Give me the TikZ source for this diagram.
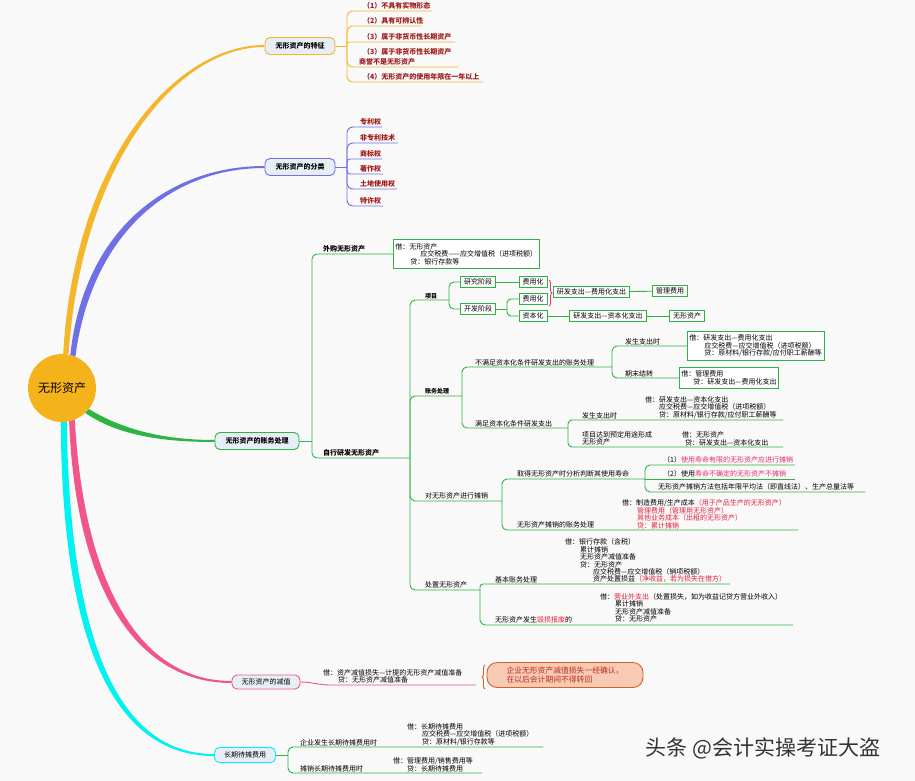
\documentclass[tikz,border=0pt]{standalone}
\usepackage{fontspec}
\setmainfont{Noto Sans CJK SC}
\usetikzlibrary{decorations.pathreplacing}

\definecolor{pagebg}{HTML}{F9F9F9}
\definecolor{rootc}{HTML}{F5B31B}
\definecolor{goldl}{HTML}{F4B72C}
\definecolor{bluel}{HTML}{6F6FE6}
\definecolor{greenl}{HTML}{2DB443}
\definecolor{pinkl}{HTML}{F0568A}
\definecolor{cyanl}{HTML}{00F2F2}
\definecolor{topicbg}{HTML}{E8EEF5}
\definecolor{itemred}{HTML}{A01A1A}
\definecolor{hotred}{HTML}{E4203A}
\definecolor{rosered}{HTML}{E2306A}
\definecolor{peach}{HTML}{F8C9B3}
\definecolor{rust}{HTML}{D2622C}
\definecolor{rusttxt}{HTML}{B8301E}

\newcommand\smallcn{\fontsize{7}{7.4}\selectfont}
\newcommand\tinycn{\fontsize{6}{6.5}\selectfont}

\begin{document}
\begin{tikzpicture}[
  x=1pt, y=-1pt,
  txt/.style   = {font=\smallcn, inner sep=0pt, anchor=south west, align=left},
  item/.style  = {txt, font=\smallcn\bfseries, text=itemred},
  topic/.style = {draw, line width=0.9pt, fill=topicbg, rounded corners=5pt,
                  font=\smallcn\bfseries, minimum height=17pt, inner xsep=4pt, inner ysep=0pt},
  gbox/.style  = {draw=greenl, line width=0.9pt, fill=white, font=\smallcn,
                  inner xsep=3.5pt, inner ysep=2pt},
  jbox/.style  = {gbox, align=left, anchor=west, inner xsep=2pt, inner ysep=3.5pt},
  gl/.style    = {draw=greenl, line width=0.9pt, rounded corners=5pt},
]

%% page
\useasboundingbox (0,0) rectangle (915,781);
\fill[pagebg] (0,0) rectangle (915,781);

%% ── root and main topics ───────────────────────────────────────────
\node[circle, fill=rootc, minimum size=68pt, inner sep=0pt,
      font=\fontsize{12}{12}\selectfont] (root) at (62,388) {无形资产};

\node[topic, draw=goldl, minimum width=70pt] (feat) at (300,46) {无形资产的特征};
\node[topic, draw=bluel, minimum width=70pt] (cls)  at (300,167) {无形资产的分类};
\node[topic, draw=greenl, minimum width=84pt] (acct) at (257,441) {无形资产的账务处理};
\node[topic, draw=pinkl, minimum width=68pt, minimum height=14pt, font=\smallcn] (imp) at (266,682) {无形资产的减值};
\node[topic, draw=cyanl, minimum width=61pt, minimum height=15pt, font=\smallcn] (lt) at (245,755) {长期待摊费用};

% tapered branches
\fill[goldl] (root.88) .. controls (74,160) and (175,45) .. ([yshift=1pt]feat.west)
  -- ([yshift=-1pt]feat.west) .. controls (177,47) and (82,162) .. (root.79) -- cycle;
\fill[bluel] (root.76) .. controls (84,228) and (170,166) .. ([yshift=1pt]cls.west)
  -- ([yshift=-1pt]cls.west) .. controls (172,168) and (92,232) .. (root.67) -- cycle;
\fill[greenl] (root.-38) .. controls (120,428) and (160,440) .. ([yshift=1pt]acct.west)
  -- ([yshift=-1pt]acct.west) .. controls (158,442) and (116,434) .. (root.-47) -- cycle;
\fill[pinkl] (root.-68) .. controls (84,588) and (142,681) .. ([yshift=1pt]imp.west)
  -- ([yshift=-1pt]imp.west) .. controls (138,683) and (76,592) .. (root.-78) -- cycle;
\fill[cyanl] (root.-82) .. controls (70,650) and (122,754) .. ([yshift=1pt]lt.west)
  -- ([yshift=-1pt]lt.west) .. controls (118,756) and (62,652) .. (root.-92) -- cycle;

%% ── 特征 ───────────────────────────────────────────────────────────
\coordinate (fspine) at (347,46);
\draw[goldl, line width=0.9pt] (feat.east) -- (fspine);
\foreach \y/\e/\r [count=\i] in {11/432/6, 26/422/6, 42/455/2, 67/458/6, 82/483/6}
  \draw[goldl, line width=0.9pt, rounded corners=\r pt] (fspine) |- (\e,\y) coordinate (fe\i);
\node[item] (f1) at (363,9.8) {（1）不具有实物形态};
\node[item] (f2) at (363,24.8) {（2）具有可辨认性};
\node[item] (f3) at (363,40.8) {（3）属于非货币性长期资产};
\node[item] (f4) at (359,65.8) {\hspace*{4pt}（3）属于非货币性长期资产\\[2.5pt]商誉不是无形资产};
\node[item] (f5) at (363,80.8) {（4）无形资产的使用年限在一年以上};

%% ── 分类 ───────────────────────────────────────────────────────────
\coordinate (cspine) at (347,167);
\draw[bluel, line width=0.9pt] (cls.east) -- (cspine);
\foreach \y/\e/\r [count=\i] in {127/382/6, 143/398/6, 159/382/3, 174/383/3, 189/397/6, 206/383/6}
  \draw[bluel, line width=0.9pt, rounded corners=\r pt] (cspine) |- (\e,\y) coordinate (ce\i);
\node[item] (c1) at (360,125.8) {专利权};
\node[item] (c2) at (360,141.8) {非专利技术};
\node[item] (c3) at (360,157.8) {商标权};
\node[item] (c4) at (360,172.8) {著作权};
\node[item] (c5) at (360,187.8) {土地使用权};
\node[item] (c6) at (360,204.8) {特许权};

%% ── 账务处理 ───────────────────────────────────────────────────────
\coordinate (aspine) at (312,441);
\draw[gl] (acct.east) -- (aspine);

% 外购
\node[jbox, inner ysep=4pt] (buybox) at (393,254)
  {借：无形资产\\\hspace*{25pt}应交税费——应交增值税（进项税额）\\\hspace*{15pt}贷：银行存款等};
\draw[gl] (aspine) |- (buybox.west);
\node[txt, font=\smallcn\bfseries] (buy) at (323,252.8) {外购无形资产};

% 自行研发
\coordinate (sspine) at (410,458);
\draw[gl] (aspine) |- (sspine);
\node[txt, font=\smallcn\bfseries] (self) at (323,456.8) {自行研发无形资产};

\coordinate (pj) at (449,300);
\coordinate (ac) at (462,396);
\coordinate (am) at (502,501);
\coordinate (dp) at (480,590);
\draw[gl] (sspine) |- (pj);
\draw[gl] (sspine) |- (ac);
\draw[gl] (sspine) |- (am);
\draw[gl] (sspine) |- (dp);
\node[txt, font=\tinycn\bfseries] (pjt) at (425,298.8) {项目};
\node[txt, font=\tinycn\bfseries] (act) at (425,394.8) {账务处理};
\node[txt] (amt) at (425,499.8) {对无形资产进行摊销};
\node[txt] (dpt) at (425,588.8) {处置无形资产};

% 项目
\node[gbox] (rs) at (478,282) {研究阶段};
\node[gbox] (dv) at (478,309) {开发阶段};
\draw[gl] (pj) |- (rs.west);
\draw[gl] (pj) |- (dv.west);
\node[gbox] (ex1) at (533,282) {费用化};
\node[gbox] (ex2) at (533,299) {费用化};
\node[gbox] (cp)  at (533,316) {资本化};
\draw[gl] (rs) -- (ex1);
\coordinate (dvj) at (507,309);
\draw[gl] (dv) -- (dvj);
\draw[gl, rounded corners=4pt] (dvj) |- (ex2.west);
\draw[gl, rounded corners=4pt] (dvj) |- (cp.west);
\draw[rosered, line width=0.8pt, decorate, decoration={brace, amplitude=3pt}]
  (549,280) -- (549,306);
\node[gbox, anchor=west] (exout) at (553,292) {研发支出—费用化支出};
\node[gbox] (mg) at (670,291) {管理费用};
\draw[gl] (exout) -- (mg);
\node[gbox] (cpout) at (608,316) {研发支出—资本化支出};
\node[gbox] (ia) at (687,316) {无形资产};
\draw[gl] (cp) -- (cpout);
\draw[gl] (cpout) -- (ia);

% 不满足资本化条件
\coordinate (ns) at (612,367);
\draw[gl] (ac) |- (ns);
\node[txt] (nst) at (475,365.8) {不满足资本化条件研发支出的账务处理};
\node[jbox] (nb1) at (687,346)
  {借：研发支出—费用化支出\\\hspace*{15pt}应交税费—应交增值税（进项税额）\\\hspace*{15pt}贷：原材料/银行存款/应付职工薪酬等};
\node[jbox] (nb2) at (679,378)
  {借：管理费用\\\hspace*{12pt}贷：研发支出—费用化支出};
\draw[gl] (ns) |- (nb1.west);
\draw[gl] (ns) |- (nb2.west);
\node[txt] (ns1) at (625,344.8) {发生支出时};
\node[txt] (ns2) at (625,376.8) {期末结转};

% 满足资本化条件
\coordinate (st) at (568,428);
\draw[gl] (ac) |- (st);
\node[txt] (stt) at (475,426.8) {满足资本化条件研发支出};
\draw[gl, rounded corners=4pt] (st) |- (783,420) coordinate (st1);
\draw[gl, rounded corners=4pt] (st) |- (783,447) coordinate (st2);
\node[txt] (st1t) at (582,418.8) {发生支出时};
\node[txt] (st1j) at (645,418.8)
  {借：研发支出—资本化支出\\\hspace*{14pt}应交税费—应交增值税（进项税额）\\\hspace*{14pt}贷：原材料/银行存款/应付职工薪酬等};
\node[txt] (st2t) at (582,445.8) {项目达到预定用途形成\\无形资产};
\node[txt] (st2j) at (682,445.8) {借：无形资产\\\hspace*{3pt}贷：研发支出—资本化支出};

% 摊销
\coordinate (am1) at (645,479);
\draw[gl] (am) |- (am1);
\node[txt] (am1t) at (517,477.8) {取得无形资产时分析判断其使用寿命};
\draw[gl] (am1) |- (795,465) coordinate (l1);
\draw[gl] (am1) -- (795,479) coordinate (l2);
\draw[gl] (am1) |- (865,492) coordinate (l3);
\node[txt] (l1t) at (663,463.8) {（1）\textcolor{rosered}{使用寿命有限的无形资产应进行摊销}};
\node[txt] (l2t) at (663,477.8) {（2）使用\textcolor{rosered}{寿命不确定的无形资产不摊销}};
\node[txt] (l3t) at (658,490.8) {无形资产摊销方法包括年限平均法（即直线法）、生产总量法等};
\coordinate (am2) at (798,530);
\draw[gl] (am) |- (am2);
\node[txt] (am2t) at (517,528.8) {无形资产摊销的账务处理};
\node[txt] (am2j) at (622,528.8)
  {借：制造费用/生产成本\textcolor{hotred}{（用于产品生产的无形资产）}\\
   \hspace*{15pt}\textcolor{hotred}{管理费用（管理用无形资产）}\\
   \hspace*{15pt}\textcolor{hotred}{其他业务成本（出租的无形资产）}\\
   \hspace*{15pt}\textcolor{hotred}{贷：累计摊销}};

% 处置
\coordinate (dp1) at (730,584);
\draw[gl, rounded corners=3pt] (dp) |- (dp1);
\node[txt] (dp1t) at (495,582.8) {基本账务处理};
\node[txt] (dp1j) at (565,582.8)
  {借：银行存款（含税）\\
   \hspace*{15pt}累计摊销\\
   \hspace*{15pt}无形资产减值准备\\
   \hspace*{15pt}贷：无形资产\\
   \hspace*{28pt}应交税费—应交增值税（销项税额）\\
   \hspace*{28pt}资产处置损益\textcolor{hotred}{（净收益，若为损失在借方）}};
\coordinate (dp2) at (793,625);
\draw[gl] (dp) |- (dp2);
\node[txt] (dp2t) at (495,623.8) {无形资产发生\textcolor{hotred}{毁损报废}的};
\node[txt] (dp2j) at (600,622.5)
  {借：\textcolor{hotred}{营业外支出}（处置损失，如为收益记贷方营业外收入）\\
   \hspace*{15pt}累计摊销\\
   \hspace*{15pt}无形资产减值准备\\
   \hspace*{15pt}贷：无形资产};

%% ── 减值 ───────────────────────────────────────────────────────────
\coordinate (ij) at (476,685);
\draw[pinkl, line width=0.9pt] (imp.east) to[out=0, in=180] (330,685) -- (ij);
\node[txt] (impj) at (323,683.8)
  {借：资产减值损失—计提的无形资产减值准备\\\hspace*{15pt}贷：无形资产减值准备};
\draw[rust, line width=0.9pt, decorate, decoration={brace, amplitude=3pt}]
  (485,689) -- (485,665);
\node[draw=rust, fill=peach, line width=0.9pt, rounded corners=10pt, text=rusttxt,
      font=\fontsize{7.8}{9.5}\selectfont, align=left,
      minimum width=156pt, minimum height=25pt] (note) at (565,675)
  {企业无形资产减值损失一经确认，\\在以后会计期间不得转回};

%% ── 长期待摊费用 ───────────────────────────────────────────────────
\coordinate (ltj) at (288,755);
\draw[gl] (lt.east) -- (ltj);
\draw[gl] (ltj) |- (543,747) coordinate (lt1);
\draw[gl] (ltj) |- (482,773) coordinate (lt2);
\node[txt] (lt1t) at (300,745.8) {企业发生长期待摊费用时};
\node[txt] (lt1j) at (407,745.8)
  {借：长期待摊费用\\\hspace*{15pt}应交税费—应交增值税（进项税额）\\\hspace*{15pt}贷：原材料/银行存款等};
\node[txt] (lt2t) at (300,771.8) {摊销长期待摊费用时};
\node[txt] (lt2j) at (393,771.8) {借：管理费用/销售费用等\\\hspace*{14pt}贷：长期待摊费用};

%% watermark
\node[font=\fontsize{21}{21}\selectfont, text=black!80, inner sep=0pt] (mark) at (763,748)
  {头条 @会计实操考证大盗};

\end{tikzpicture}
\end{document}
